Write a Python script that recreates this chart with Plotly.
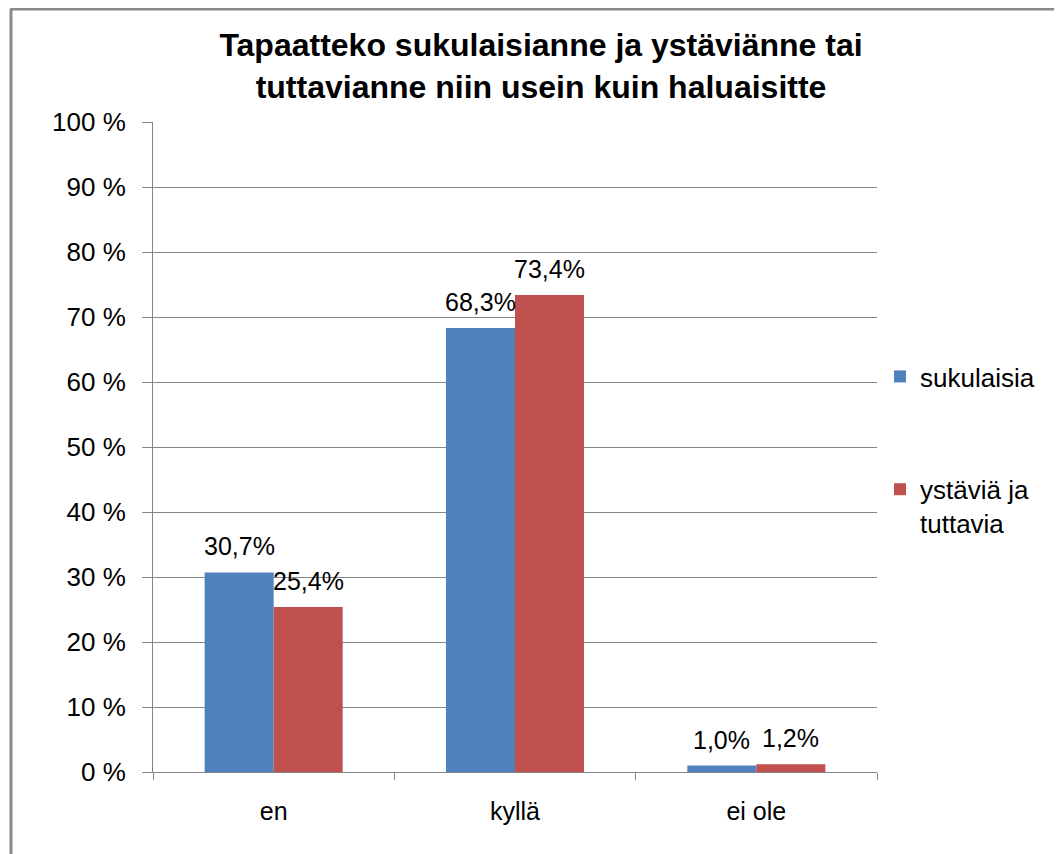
import plotly.graph_objects as go

categories = ["en", "kyllä", "ei ole"]
series_names = ["sukulaisia", "ystäviä ja<br>tuttavia"]
sukulaisia = [30.7, 68.3, 1.0]
ystavia = [25.4, 73.4, 1.2]
tick_vals = [0, 10, 20, 30, 40, 50, 60, 70, 80, 90, 100]
tick_text = ["0 %", "10 %", "20 %", "30 %", "40 %", "50 %", "60 %", "70 %", "80 %", "90 %", "100 %"]
title_lines = ["Tapaatteko sukulaisianne ja ystäviänne tai", "tuttavianne niin usein kuin haluaisitte"]

colors = ["#4F81BD", "#C0504D"]
FONT = "Liberation Sans, Arial, sans-serif"

# page has an 8px body margin; figure coords = page coords - 8
OFF = 8
W, H = 1054, 846
ML, MT = 153 - OFF, 122 - OFF
PW, PH = 724, 650
MR, MB = W - ML - PW, H - MT - PH

fig = go.Figure()
for name, vals, col in zip(series_names, [sukulaisia, ystavia], colors):
    fig.add_trace(go.Bar(
        x=categories, y=vals, name=name, marker=dict(color=col, line=dict(width=0)),
        legendgroup=name,
    ))

# data labels
bar_px = PW / len(categories) * (1 - 0.428) / 2
for vals, sgn in zip([sukulaisia, ystavia], [-1, 1]):
    for c, v in zip(categories, vals):
        fig.add_annotation(
            x=c, y=v, xref="x", yref="y", text=f"{v:.1f}%".replace(".", ","),
            showarrow=False, xshift=sgn * bar_px / 2, yanchor="bottom", yshift=10,
            font=dict(family=FONT, size=25, color="#000000"),
        )

def px_x(p):
    return (p - OFF - ML) / PW

def px_y(p):
    return (H - MB - (p - OFF)) / PH

border = "#8a8a8a"
fig.add_shape(type="line", xref="paper", yref="paper", x0=px_x(11), x1=px_x(11), y0=px_y(9), y1=px_y(860),
              line=dict(color=border, width=3))
fig.add_shape(type="line", xref="paper", yref="paper", x0=px_x(10), x1=px_x(1062), y0=px_y(9), y1=px_y(9),
              line=dict(color=border, width=3))
fig.add_shape(type="line", xref="paper", yref="paper", x0=px_x(1060.5), x1=px_x(1060.5), y0=px_y(9), y1=px_y(860),
              line=dict(color="#b0b0b0", width=2))

fig.update_layout(
    width=W, height=H,
    margin=dict(l=ML, r=MR, t=MT, b=MB),
    paper_bgcolor="white", plot_bgcolor="white",
    bargap=0.428, bargroupgap=0,
    title=dict(text="<br>".join(title_lines), x=(541 - OFF) / W, xanchor="center", y=1 - 48 / H, yanchor="top",
               yref="container",
               font=dict(family=FONT, size=32, color="#000000", weight="bold")),
    font=dict(family=FONT, size=26, color="#000000"),
    showlegend=True,
    legend=dict(x=px_x(880), xanchor="left", y=px_y(353), yanchor="top", traceorder="grouped",
                tracegroupgap=76, valign="top", font=dict(family=FONT, size=26, color="#000000"),
                itemwidth=30, bgcolor="rgba(0,0,0,0)"),
    xaxis=dict(showline=True, linecolor="#868686", linewidth=1, ticks="outside", tickson="boundaries",
               ticklen=7, tickcolor="#868686", showgrid=False, tickfont=dict(size=25), ticklabelstandoff=17),
    yaxis=dict(range=[0, 100], tickvals=tick_vals, ticktext=tick_text, showline=True, linecolor="#868686",
               ticks="outside", ticklen=10, tickcolor="#868686", showgrid=True, gridcolor="#868686",
               gridwidth=1, zeroline=False, tickfont=dict(size=26), ticklabelstandoff=11),
)

fig.write_html("out.html")
